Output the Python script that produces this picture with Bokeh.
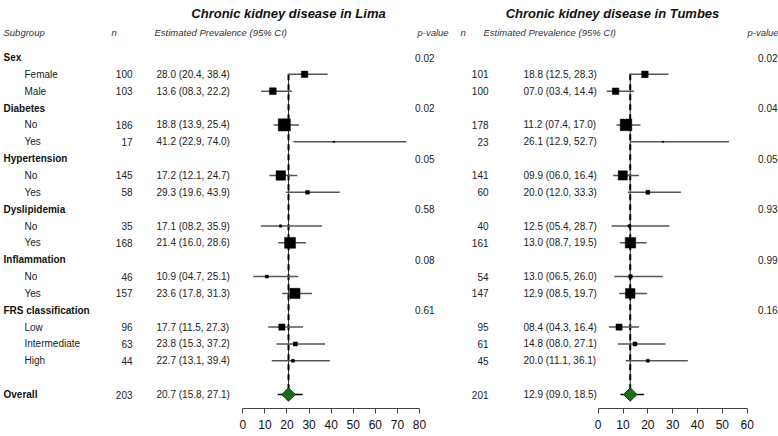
import math
from bokeh.plotting import figure
from bokeh.models import Range1d, FixedTicker
from bokeh.layouts import row
from bokeh.core.properties import value
from bokeh.embed import file_html
from bokeh.resources import INLINE

# ---------------- data ----------------
categories = ["Sex", "Diabetes", "Hypertension", "Dyslipidemia", "Inflammation", "FRS classification"]
levels = [["Female", "Male"], ["No", "Yes"], ["No", "Yes"], ["No", "Yes"], ["No", "Yes"],
          ["Low", "Intermediate", "High"]]

lima_n = [100, 103, 186, 17, 145, 58, 35, 168, 46, 157, 96, 63, 44]
lima_est = [28.0, 13.6, 18.8, 41.2, 17.2, 29.3, 17.1, 21.4, 10.9, 23.6, 17.7, 23.8, 22.7]
lima_lo = [20.4, 8.3, 13.9, 22.9, 12.1, 19.6, 8.2, 16.0, 4.7, 17.8, 11.5, 15.3, 13.1]
lima_hi = [38.4, 22.2, 25.4, 74.0, 24.7, 43.9, 35.9, 28.6, 25.1, 31.3, 27.3, 37.2, 39.4]
lima_p = ["0.02", "0.02", "0.05", "0.58", "0.08", "0.61"]
lima_overall = [203, 20.7, 15.8, 27.1]
lima_ticks = [0, 10, 20, 30, 40, 50, 60, 70, 80]

tumbes_n = [101, 100, 178, 23, 141, 60, 40, 161, 54, 147, 95, 61, 45]
tumbes_est = [18.8, 7.0, 11.2, 26.1, 9.9, 20.0, 12.5, 13.0, 13.0, 12.9, 8.4, 14.8, 20.0]
tumbes_lo = [12.5, 3.4, 7.4, 12.9, 6.0, 12.0, 5.4, 8.7, 6.5, 8.5, 4.3, 8.0, 11.1]
tumbes_hi = [28.3, 14.4, 17.0, 52.7, 16.4, 33.3, 28.7, 19.5, 26.0, 19.7, 16.4, 27.1, 36.1]
tumbes_p = ["0.02", "0.04", "0.05", "0.93", "0.99", "0.16"]
tumbes_overall = [201, 12.9, 9.0, 18.5]
tumbes_ticks = [0, 10, 20, 30, 40, 50, 60]

titles = ["Chronic kidney disease in Lima", "Chronic kidney disease in Tumbes"]

# ---------------- layout ----------------
FONT = "Liberation Sans"
TOTAL_H = 436
AXIS_PANEL = 28
ROW0_Y = 57.0      # y of first row (px from top)
ROW_DY = 16.85     # px per row
FRAME_TOP = 0
FRAME_BOTTOM = TOTAL_H - AXIS_PANEL


def row_of(py):
    return (py - ROW0_Y) / ROW_DY


# rows
cat_rows, item_rows, item_labels = [], [], []
r = 0
for cat, lv in zip(categories, levels):
    cat_rows.append(r)
    r += 1
    for name in lv:
        item_rows.append(r)
        item_labels.append(name)
        r += 1
overall_row = r + 1


def fmt(e, l, h):
    return "%04.1f (%04.1f, %04.1f)" % (e, l, h)


def panel(title, n, est, lo, hi, pv, overall, ticks, left, right, zero_px, px_per_unit, pos, show_sub):
    def X(px):
        return (px - zero_px) / px_per_unit

    p = figure(width=right - left, height=TOTAL_H,
               x_range=Range1d(X(left), X(right)),
               y_range=Range1d(row_of(FRAME_BOTTOM), row_of(FRAME_TOP)),
               output_backend="svg", toolbar_location=None,
               min_border=0, min_border_bottom=AXIS_PANEL, y_axis_location=None,
               outline_line_color=None, background_fill_color="white",
               border_fill_color="white")
    p.grid.visible = False

    def txt(xs, ys, texts, size="10px", align="left", style="normal", color="#222222"):
        p.text(x=xs, y=ys, text=texts, text_font=value(FONT), text_font_size=size,
               text_align=align, text_baseline="middle", text_font_style=style,
               text_color=color)

    # title and headers
    txt([X(pos["title"])], [row_of(13)], [title], size="13px", align="center",
        style="bold italic", color="#111111")
    hy = row_of(32)
    if show_sub:
        txt([X(pos["cat"])], [hy], ["Subgroup"], size="9.5px", style="italic", color="#333333")
    txt([X(pos["n_head"])], [hy], ["n"], size="9.5px", style="italic", color="#333333")
    txt([X(pos["est_head"])], [hy], ["Estimated Prevalence (95% CI)"], size="9.5px",
        style="italic", color="#333333")
    txt([X(pos["p_head"])], [hy], ["p-value"], size="9.5px", style="italic", color="#333333")

    # subgroup labels
    if show_sub:
        txt([X(pos["cat"])] * len(cat_rows), cat_rows, categories, size="10px", style="bold",
            color="#111111")
        txt([X(pos["sub"])] * len(item_rows), item_rows, item_labels)
        txt([X(pos["cat"])], [overall_row], ["Overall"], style="bold", color="#111111")

    # n, estimates, p-values
    txt([X(pos["n"])] * len(item_rows), item_rows, [str(v) for v in n], align="right")
    txt([X(pos["est"])] * len(item_rows), item_rows,
        [fmt(e, l, h) for e, l, h in zip(est, lo, hi)])
    txt([X(pos["p"])] * len(cat_rows), cat_rows, pv, align="right")
    txt([X(pos["n"])], [overall_row], [str(overall[0])], align="right")
    txt([X(pos["est"])], [overall_row], [fmt(*overall[1:])])

    # reference lines at overall estimate
    ov = overall[1]
    p.segment(x0=[ov], y0=[item_rows[0]], x1=[ov], y1=[overall_row], line_color="#333333",
              line_width=1)
    p.segment(x0=[ov], y0=[item_rows[0]], x1=[ov], y1=[overall_row], line_color="black",
              line_width=2, line_dash="6 4")

    # confidence intervals and boxes
    p.segment(x0=lo, y0=item_rows, x1=hi, y1=item_rows, line_color="#555555", line_width=1.5)
    p.scatter(x=est, y=item_rows, size=[max(1.5, v * 0.065) for v in n], marker="square",
              fill_color="black", line_color="black", line_width=0.5)

    # overall
    p.segment(x0=[overall[2]], y0=[overall_row], x1=[overall[3]], y1=[overall_row],
              line_color="black", line_width=1.5)
    p.scatter(x=[ov], y=[overall_row], marker="square", angle=math.pi / 4, size=9.5,
              fill_color="#1e6b1e", line_color="#0c3c0c", line_width=1)

    ax = p.xaxis[0]
    ax.ticker = FixedTicker(ticks=ticks)
    ax.bounds = (ticks[0], ticks[-1])
    ax.major_tick_out = 5
    ax.major_tick_in = 0
    ax.minor_tick_line_color = None
    ax.axis_line_color = "#444444"
    ax.major_tick_line_color = "#444444"
    ax.major_label_text_font = FONT
    ax.major_label_text_font_size = "12px"
    ax.major_label_text_color = "#111111"
    ax.major_label_standoff = 6
    return p


pos_lima = dict(title=288, cat=3, sub=24, n=132, n_head=111, est=156, est_head=154,
                p=434, p_head=417)
pos_tumbes = dict(title=612, cat=3, sub=24, n=488, n_head=460, est=523, est_head=483,
                  p=777, p_head=747)

SPLIT = 452
p1 = panel(titles[0], lima_n, lima_est, lima_lo, lima_hi, lima_p, lima_overall, lima_ticks,
           0, SPLIT, 242.3, 2.209, pos_lima, True)
p2 = panel(titles[1], tumbes_n, tumbes_est, tumbes_lo, tumbes_hi, tumbes_p, tumbes_overall,
           tumbes_ticks, SPLIT, 778, 597.7, 2.483, pos_tumbes, False)

layout = row(p1, p2)
open("out.html", "w").write(file_html(layout, INLINE))
